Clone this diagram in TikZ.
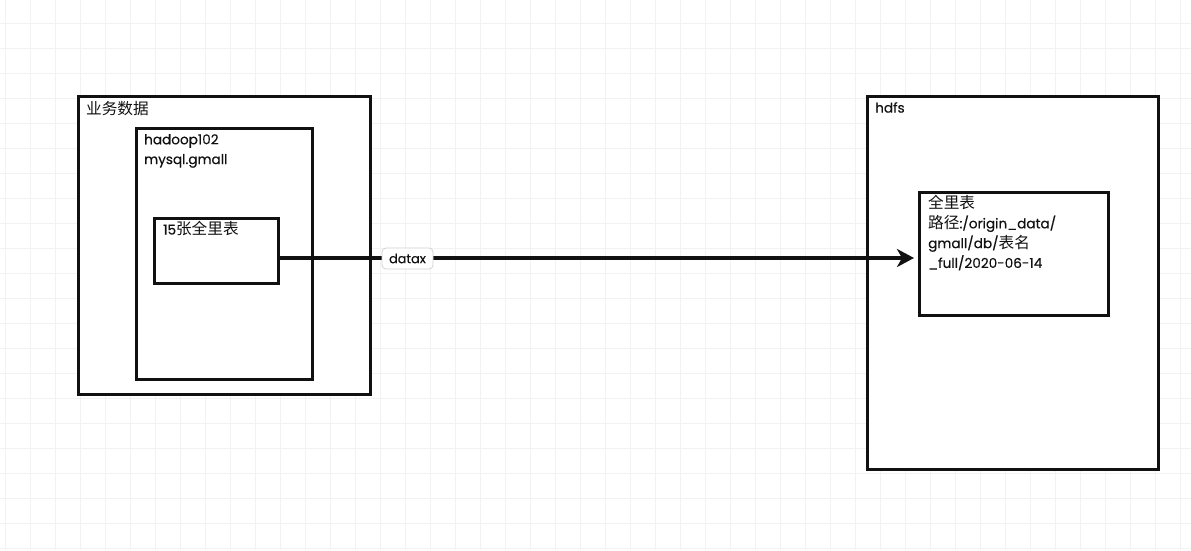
\documentclass[tikz,border=0pt]{standalone}
\usepackage{fontspec}
\setmainfont{Poppins}[FakeBold=0.4]
\newfontfamily\cjk{Noto Sans CJK SC}[Scale=1.15]
\usetikzlibrary{arrows.meta}
\definecolor{gridc}{HTML}{F2F2F2}
\definecolor{inkc}{HTML}{111111}
\tikzset{
  gridline/.style={draw=gridc, line width=1pt},
  boxnode/.style={draw=inkc, line width=2.8pt, fill=white, anchor=north west, inner sep=0pt},
  txt/.style={anchor=north west, inner sep=0pt, align=left, text=inkc,
    font=\fontsize{13.6}{19.8}\selectfont},
  flow/.style={draw=inkc, line width=4pt, -{Stealth[length=17pt,width=18pt,inset=5pt]}},
  lbl/.style={draw=black!18, line width=0.8pt, fill=white, rounded corners=4pt,
    minimum width=51pt, minimum height=21pt, inner sep=2pt, text=inkc,
    font=\fontsize{12.8}{15}\selectfont}
}
\begin{document}
\begin{tikzpicture}[x=1pt,y=-1pt]
\useasboundingbox (0,0) rectangle (1191,550);
\fill[white] (0,0) rectangle (1191,550);
\foreach \gx in {5,30,...,1180} \draw[gridline] (\gx,0) -- (\gx,550);
\foreach \gy in {23,48,...,548} \draw[gridline] (0,\gy) -- (1191,\gy);

% left group
\node[boxnode, minimum width=292pt, minimum height=298pt] (biz) at (77,95) {};
\node[txt] (bizt) at (86,101) {\cjk 业务数据};
\node[boxnode, minimum width=176pt, minimum height=251pt] (host) at (135,127) {};
\node[txt] (hostt) at (144,134) {hadoop102\\mysql.gmall};
\node[boxnode, minimum width=124pt, minimum height=65pt] (src) at (153,217) {};
\node[txt] (srct) at (163,221) {15{\cjk 张全里表}};

% right group
\node[boxnode, minimum width=291pt, minimum height=373pt] (hdfs) at (866,95) {};
\node[txt] (hdfst) at (875,102) {hdfs};
\node[boxnode, minimum width=189pt, minimum height=123pt] (dst) at (918,191) {};
\node[txt] (dstt) at (928,195) {{\cjk 全里表}\\{\cjk 路径}:/origin\_data/\\gmall/db/{\cjk 表名}\\\_full/2020-06-14};

% connector
\coordinate (a0) at (280,258);
\draw[flow, shorten >=4pt] (a0) -- (a0 -| dst.west);
\node[lbl] (dl) at (407.5,258.5) {datax};
\end{tikzpicture}
\end{document}
